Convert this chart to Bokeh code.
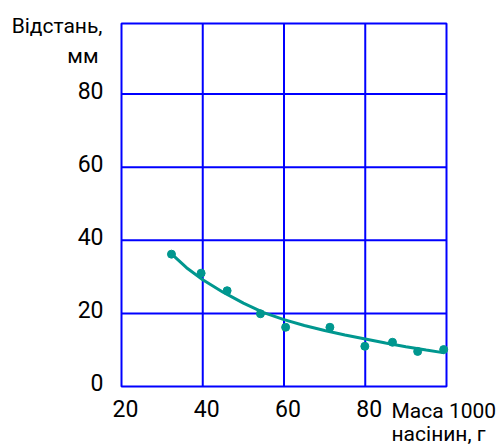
from bokeh.plotting import figure
from bokeh.models import Range1d, Label
from bokeh.core.properties import value
from bokeh.embed import file_html
from bokeh.resources import INLINE

# measured points: 1000-seed mass (g) vs distance (mm)
mass = [32.3, 39.6, 46.0, 54.2, 60.4, 71.3, 79.9, 86.7, 92.9, 99.3]
dist = [36.2, 31.0, 26.2, 19.9, 16.2, 16.2, 11.0, 12.1, 9.6, 10.1]

# fitted curve
fit_x = [32.3, 36, 40, 45, 50, 55, 60, 65, 70, 75, 80, 85, 90, 95, 99.5]
fit_y = [36.3, 32.5, 29.2, 25.8, 22.8, 20.2, 18.3, 16.7, 15.3, 14.1, 13.0, 11.9, 10.9, 10.0, 9.2]

x_ticks = [20, 40, 60, 80]
y_ticks = [0, 20, 40, 60, 80]
x_grid = [40, 60, 80]
y_grid = [20, 40, 60, 80]
x_min, x_max = 20, 100
y_min, y_max = 0, 99.3

FONT = "Roboto"
BLUE = "#0000FF"
TEAL = "#00978F"

# canvas geometry (pixels): plot box inside the canvas
W, H = 497, 446
L, R, T, B = 121, 446, 23, 386
kx = (R - L) / (x_max - x_min)
ky = (B - T) / (y_max - y_min)
x_range = Range1d(x_min - L / kx, x_max + (W - R) / kx)
y_range = Range1d(y_min - (H - B) / ky, y_max + T / ky)

p = figure(width=W, height=H, x_range=x_range, y_range=y_range,
           output_backend="svg", toolbar_location=None,
           min_border=0)
p.axis.visible = False
p.grid.visible = False
p.outline_line_color = None

# plot box and grid
p.quad(left=[x_min], right=[x_max], bottom=[y_min], top=[y_max],
       fill_color=None, line_color=BLUE, line_width=2)
p.segment(x0=x_grid, y0=[y_min] * len(x_grid), x1=x_grid, y1=[y_max] * len(x_grid),
          line_color=BLUE, line_width=2)
p.segment(x0=[x_min] * len(y_grid), y0=y_grid, x1=[x_max] * len(y_grid), y1=y_grid,
          line_color=BLUE, line_width=2)

# tick labels
p.text(x=x_ticks, y=[y_min] * len(x_ticks), text=[str(t) for t in x_ticks],
       x_offset=4, y_offset=22, text_align="center", text_baseline="middle",
       text_font=value(FONT), text_font_size="23px", text_color="black")
p.text(x=[x_min] * len(y_ticks), y=y_ticks, text=[str(t) for t in y_ticks],
       x_offset=-18, y_offset=-4, text_align="right", text_baseline="middle",
       text_font=value(FONT), text_font_size="23px", text_color="black")

# data
p.line(fit_x, fit_y, line_color=TEAL, line_width=3)
p.scatter(mass, dist, size=8, fill_color=TEAL, line_color=TEAL)

def lab(text, x, y, xo, align, size):
    p.add_layout(Label(x=x, y=y, x_offset=xo, text=text, text_align=align,
                       text_baseline="alphabetic", text_font=FONT,
                       text_font_size=size, text_color="black"))

lab("Відстань,", x_min, y_max - 2 / ky, -19, "right", "21px")
lab("мм", x_min, y_max - 32 / ky, -23, "right", "21px")
lab("Маса 1000", x_max, y_min - 24 / ky, -55, "left", "21px")
lab("насінин, г", x_max, y_min - 47 / ky, -55, "left", "21px")

open("out.html", "w").write(file_html(p, INLINE))
